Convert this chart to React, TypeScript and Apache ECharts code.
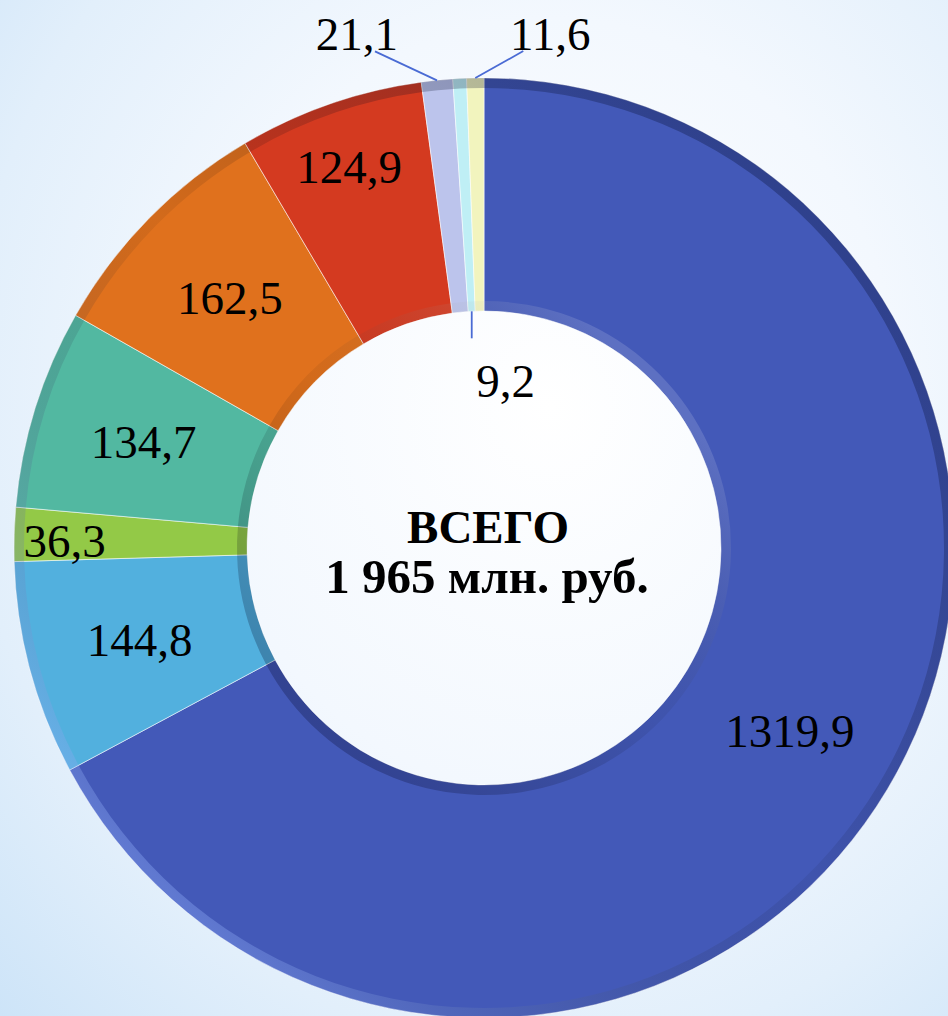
import React, { useEffect, useRef } from "react";
import * as echarts from "echarts";

// ---- data ----
const categories = [
  "Категория 1",
  "Категория 2",
  "Категория 3",
  "Категория 4",
  "Категория 5",
  "Категория 6",
  "Категория 7",
  "Категория 8",
  "Категория 9",
];
const values = [1319.9, 144.8, 36.3, 134.7, 162.5, 124.9, 21.1, 9.2, 11.6];
const centerLines = ["ВСЕГО", "1 965 млн. руб."];

// ---- styles ----
const colors = [
  "#4359B8",
  "#52B0DE",
  "#93C947",
  "#52B8A1",
  "#E0711D",
  "#D43A20",
  "#BCC4EC",
  "#BFEFF5",
  "#F2F4BE",
];
const CX = 484;
const CY = 548;
const R_IN = 237;
const R_OUT = 470;
const FONT = "'Liberation Serif', 'Times New Roman', serif";

// label nudges for inside labels (index -> [dx, dy])
const nudges: Record<number, [number, number]> = {
  2: [-63, 3],
  5: [-18, -44],
};
// callouts for tiny slices
const callouts: Record<
  number,
  { edge: "outer" | "inner"; line: [number, number]; text: [number, number] }
> = {
  6: { edge: "outer", line: [-62, -29], text: [-18, -17] },
  7: { edge: "inner", line: [0, 27], text: [34, 43] },
  8: { edge: "outer", line: [48, -27], text: [27, -17] },
};

const fmt = (v: number) => v.toFixed(1).replace(".", ",");

export default function App() {
  const ref = useRef<HTMLDivElement>(null);

  useEffect(() => {
    document.body.style.margin = "0";
    if (!ref.current) return;
    const chart = echarts.init(ref.current, undefined, { renderer: "svg" });

    const total = values.reduce((a, b) => a + b, 0);
    let acc = 0;
    const mids = values.map((v) => {
      const m = acc + v / 2;
      acc += v;
      return (m / total) * Math.PI * 2;
    });
    const pt = (r: number, a: number): [number, number] => [
      CX + r * Math.sin(a),
      CY - r * Math.cos(a),
    ];

    const baseData = values.map((v, i) => ({ name: categories[i], value: v }));

    const centerText = (text: string, x: number, y: number, size: number) => ({
      type: "text",
      x,
      y,
      style: {
        text,
        fontFamily: FONT,
        fontWeight: "bold",
        fontSize: size,
        fill: "#000",
        textAlign: "center",
        textVerticalAlign: "middle",
        align: "center",
        verticalAlign: "middle",
      },
    });

    const option: any = {
      animation: false,
      backgroundColor: "transparent",
      graphic: [
        centerText(centerLines[0], 488, 527, 47),
        centerText(centerLines[1], 487, 576, 49),
      ],
      series: [
        {
          type: "pie",
          center: [CX, CY],
          radius: [R_IN, R_OUT],
          startAngle: 90,
          clockwise: true,
          silent: true,
          z: 2,
          label: { show: false },
          labelLine: { show: false },
          data: baseData.map((d, i) => ({
            ...d,
            itemStyle: {
              color: colors[i],
              borderColor: "rgba(255,255,255,0.55)",
              borderWidth: 1,
            },
          })),
        },
        {
          // outer bevel
          type: "pie",
          center: [CX, CY],
          radius: [R_OUT - 10, R_OUT],
          startAngle: 90,
          clockwise: true,
          silent: true,
          z: 3,
          label: { show: false },
          labelLine: { show: false },
          itemStyle: {
            color: {
              type: "linear",
              global: true,
              x: CX + R_OUT * 0.7,
              y: CY - R_OUT * 0.7,
              x2: CX - R_OUT * 0.7,
              y2: CY + R_OUT * 0.7,
              colorStops: [
                { offset: 0, color: "rgba(10,20,60,0.35)" },
                { offset: 0.5, color: "rgba(0,0,0,0.06)" },
                { offset: 1, color: "rgba(150,180,255,0.35)" },
              ],
            },
          },
          data: baseData,
        },
        {
          // inner bevel
          type: "pie",
          center: [CX, CY],
          radius: [R_IN, R_IN + 10],
          startAngle: 90,
          clockwise: true,
          silent: true,
          z: 3,
          label: { show: false },
          labelLine: { show: false },
          itemStyle: {
            color: {
              type: "linear",
              global: true,
              x: CX + R_IN * 0.7,
              y: CY - R_IN * 0.7,
              x2: CX - R_IN * 0.7,
              y2: CY + R_IN * 0.7,
              colorStops: [
                { offset: 0, color: "rgba(255,255,255,0.14)" },
                { offset: 0.5, color: "rgba(0,0,0,0.06)" },
                { offset: 1, color: "rgba(0,0,30,0.25)" },
              ],
            },
          },
          data: baseData,
        },
        {
          // labels
          type: "pie",
          center: [CX, CY],
          radius: [R_IN, R_OUT],
          startAngle: 90,
          clockwise: true,
          silent: true,
          z: 5,
          avoidLabelOverlap: false,
          itemStyle: { color: "rgba(0,0,0,0)" },
          label: {
            show: true,
            position: "inside",
            formatter: (p: any) => fmt(p.value),
            fontFamily: FONT,
            fontSize: 47,
            color: "#000",
            textBorderWidth: 0,
          },
          labelLine: { show: false },
          labelLayout: (p: any) => {
            const i = p.dataIndex;
            const c = callouts[i];
            if (c) {
              const a = pt(c.edge === "outer" ? R_OUT : R_IN, mids[i]);
              const e: [number, number] = [a[0] + c.line[0], a[1] + c.line[1]];
              return {
                x: e[0] + c.text[0],
                y: e[1] + c.text[1],
                align: "center",
                verticalAlign: "middle",
                labelLinePoints: [a, e, e],
              };
            }
            const n = nudges[i];
            if (n) return { dx: n[0], dy: n[1] };
            return {};
          },
          data: baseData.map((d, i) =>
            callouts[i]
              ? {
                  ...d,
                  label: { position: "outside" },
                  labelLine: {
                    show: true,
                    length: 20,
                    length2: 0,
                    lineStyle: { color: "#4A6BD4", width: 1.8 },
                  },
                }
              : d
          ),
        },
      ],
    };

    chart.setOption(option);
    return () => chart.dispose();
  }, []);

  return (
    <div
      style={{
        width: 948,
        height: 1016,
        background:
          "radial-gradient(ellipse at 58% 40%, #ffffff 0%, #f3f8fe 45%, #e2effb 75%, #cde4f8 100%)",
      }}
    >
      <div ref={ref} style={{ width: 948, height: 1016 }} />
    </div>
  );
}
